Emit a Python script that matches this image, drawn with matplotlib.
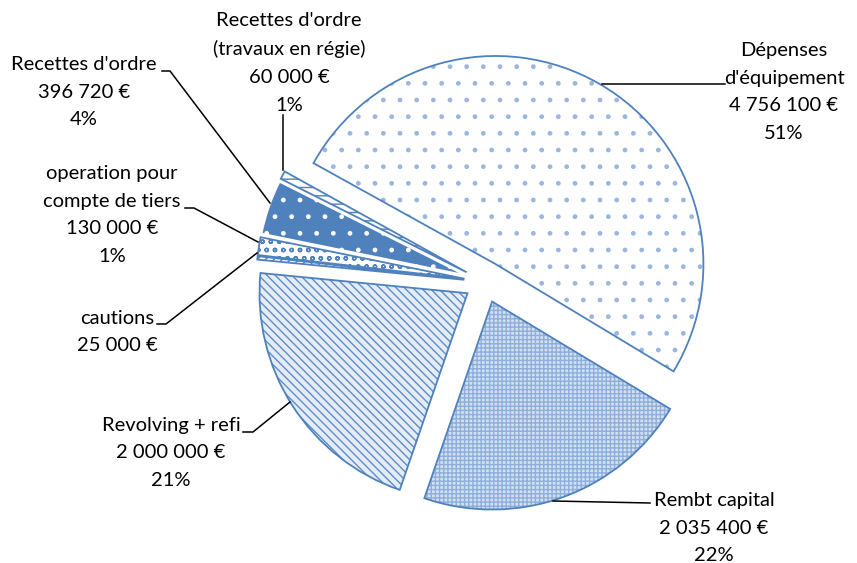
import matplotlib.pyplot as plt
import numpy as np

labels = ["Dépenses\nd'équipement", "Rembt capital", "Revolving + refi", "cautions",
          "operation pour\ncompte de tiers", "Recettes d'ordre", "Recettes d'ordre\n(travaux en régie)"]
values = [4756100, 2035400, 2000000, 25000, 130000, 396720, 60000]
amounts = ["4 756 100 €", "2 035 400 €", "2 000 000 €", "25 000 €", "130 000 €", "396 720 €", "60 000 €"]
pcts = ["51%", "22%", "21%", "", "1%", "4%", "1%"]

blue = '#4F81BD'
plt.rcParams['font.family'] = ['Lato', 'DejaVu Sans']
plt.rcParams['hatch.linewidth'] = 1.0

fig = plt.figure(figsize=(8.57, 5.63), dpi=100)
ax = fig.add_axes([0, 0, 1, 1])

# pie centre / radius in pixels
cx, cy, R = 485, 282, 208


def px(x, y):
    return (x - cx) / R, (cy - y) / R


# fill / pattern per slice (hatch colour set via edgecolor of the fill layer)
styles = [
    dict(fc='white', hatch='.', hc='#9bb7de'),
    dict(fc='#d3e0f0', hatch='++++', hc='#8eaedb'),
    dict(fc='#e4ecf6', hatch='\\\\\\\\', hc='#5f8dc8'),
    dict(fc='white', hatch='////', hc=blue),
    dict(fc='white', hatch='oo', hc=blue),
    dict(fc=blue, hatch='.', hc='white'),
    dict(fc='white', hatch='--', hc=blue),
]

# fill layer
fills, _ = ax.pie(values, startangle=151, counterclock=False, explode=[0.1] * 7,
                  radius=1, wedgeprops=dict(linewidth=0))
for w, s in zip(fills, styles):
    w.set_facecolor(s['fc'])
    w.set_hatch(s['hatch'])
    w.set_edgecolor(s['hc'])
    w.set_linewidth(0)

# outline layer
outl, _ = ax.pie(values, startangle=151, counterclock=False, explode=[0.1] * 7,
                 radius=1, wedgeprops=dict(linewidth=1.3, edgecolor=blue, facecolor='none'))
outl[5].set_edgecolor('white')

# label positions (text centre, px) and leader lines (px)
label_pos = [(784, 92), (714, 528), (171, 453), (117, 332), (112, 215), (84, 92), (289, 63)]
leaders = [
    [(725, 84), (602, 84)],
    [(650, 503), (553, 501)],
    [(243, 432), (253, 432), (290, 402)],
    [(157, 324), (166, 324), (257, 253)],
    [(185, 208), (194, 208), (258, 242)],
    [(162, 71), (170, 71), (270, 203)],
    [(283, 115), (283, 170)],
]

for i in range(len(values)):
    txt = labels[i] + "\n" + amounts[i]
    if pcts[i]:
        txt += "\n" + pcts[i]
    x, y = px(*label_pos[i])
    ax.text(x, y, txt, ha='center', va='center', fontsize=14.5, linespacing=1.78, color='black')
    pts = np.array([px(*p) for p in leaders[i]])
    ax.plot(pts[:, 0], pts[:, 1], color='black', lw=1.1)

ax.set_xlim(-cx / R, (857 - cx) / R)
ax.set_ylim((cy - 563) / R, cy / R)
ax.set_aspect('auto')
ax.axis('off')

fig.savefig('out.png', dpi=100)
